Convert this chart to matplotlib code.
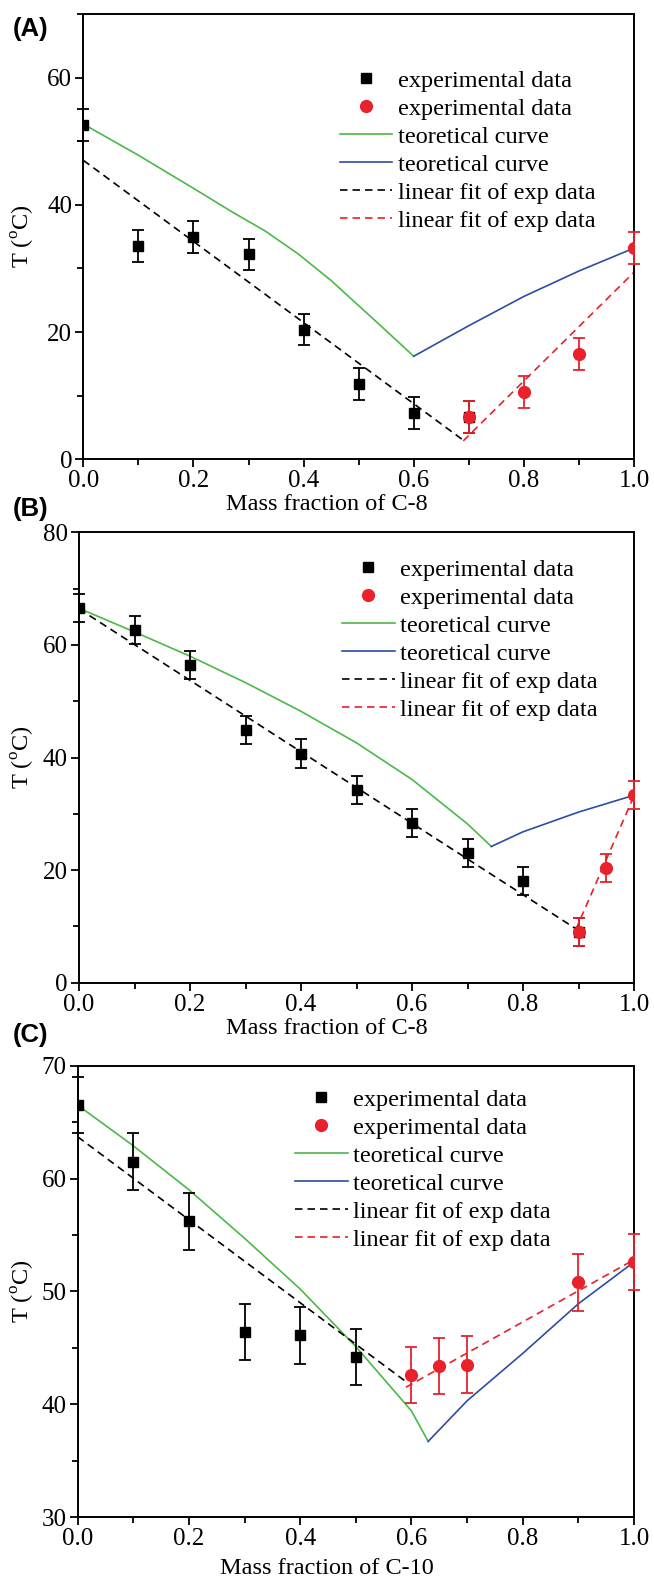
import numpy as np
import matplotlib
matplotlib.use('Agg')
import matplotlib.pyplot as plt
from matplotlib.ticker import MultipleLocator

plt.rcParams['font.family'] = ['Liberation Serif', 'DejaVu Serif']
plt.rcParams['mathtext.fontset'] = 'custom'
plt.rcParams['mathtext.rm'] = 'Liberation Serif'

W, H = 654, 1581
GREEN = '#4cb848'
BLUE = '#2b4ea3'
RED = '#e8212b'
FS_TICK = 18
FS = 17.5

# ---- panel A data (mass fraction of C-8) ----
a_sq_x = [0.0, 0.1, 0.2, 0.3, 0.4, 0.5, 0.6, 0.7]
a_sq_y = [52.5, 33.5, 35.0, 32.2, 20.4, 11.8, 7.3, 6.6]
a_ci_x = [0.7, 0.8, 0.9, 1.0]
a_ci_y = [6.6, 10.6, 16.5, 33.2]
a_green_x = [0.0, 0.1, 0.2, 0.27, 0.33, 0.39, 0.45, 0.54, 0.6]
a_green_y = [52.7, 47.8, 42.6, 38.9, 35.9, 32.3, 28.1, 21.0, 16.2]
a_blue_x = [0.6, 0.7, 0.8, 0.9, 1.0]
a_blue_y = [16.2, 21.0, 25.6, 29.6, 33.2]
a_kfit_x = [0.0, 0.69]
a_kfit_y = [47.0, 3.0]
a_rfit_x = [0.69, 1.0]
a_rfit_y = [2.9, 29.4]

# ---- panel B data (mass fraction of C-8) ----
b_sq_x = [0.0, 0.1, 0.2, 0.3, 0.4, 0.5, 0.6, 0.7, 0.8, 0.9]
b_sq_y = [66.5, 62.7, 56.4, 44.9, 40.7, 34.2, 28.3, 23.1, 18.0, 9.0]
b_ci_x = [0.9, 0.95, 1.0]
b_ci_y = [9.0, 20.3, 33.3]
b_green_x = [0.0, 0.1, 0.2, 0.3, 0.4, 0.5, 0.6, 0.7, 0.743]
b_green_y = [66.5, 62.3, 58.0, 53.3, 48.2, 42.6, 36.1, 28.2, 24.2]
b_blue_x = [0.743, 0.8, 0.9, 1.0]
b_blue_y = [24.2, 26.8, 30.3, 33.3]
b_kfit_x = [0.0, 0.895]
b_kfit_y = [66.4, 9.6]
b_rfit_x = [0.895, 1.0]
b_rfit_y = [9.4, 33.2]

# ---- panel C data (mass fraction of C-10) ----
c_sq_x = [0.0, 0.1, 0.2, 0.3, 0.4, 0.5]
c_sq_y = [66.5, 61.5, 56.2, 46.4, 46.1, 44.2]
c_ci_x = [0.6, 0.65, 0.7, 0.9, 1.0]
c_ci_y = [42.6, 43.4, 43.5, 50.8, 52.6]
c_green_x = [0.0, 0.1, 0.2, 0.3, 0.4, 0.5, 0.6, 0.63]
c_green_y = [66.5, 62.9, 59.0, 54.7, 50.2, 45.1, 39.4, 36.7]
c_blue_x = [0.63, 0.7, 0.8, 0.9, 1.0]
c_blue_y = [36.7, 40.3, 44.5, 48.9, 52.6]
c_kfit_x = [0.0, 0.59]
c_kfit_y = [63.7, 42.0]
c_rfit_x = [0.59, 1.0]
c_rfit_y = [41.5, 52.8]

err = 2.5
labels = ['experimental data', 'experimental data', 'teoretical curve',
          'teoretical curve', 'linear fit of exp data', 'linear fit of exp data']

fig = plt.figure(figsize=(W / 100, H / 100), dpi=100)


def fx(px):
    return px / W


def fy(py):
    return 1 - py / H


def panel(box, tag, tag_y, ylim, ymaj, ymin, xlabel, xlab_top, leg_xy, d):
    left, right, top, bottom = box
    ax = fig.add_axes([fx(left), fy(bottom), (right - left) / W, (bottom - top) / H])
    sq_x, sq_y, ci_x, ci_y, gx, gy, bx, by, kx, ky, rx, ry = d

    ax.errorbar(sq_x, sq_y, yerr=err, fmt='none', ecolor='black', elinewidth=1.3,
                capsize=4.2, capthick=1.3, clip_on=False, zorder=3)
    ax.errorbar(ci_x, ci_y, yerr=err, fmt='none', ecolor=RED, elinewidth=1.3,
                capsize=4.2, capthick=1.3, clip_on=False, zorder=3)
    h_sq, = ax.plot(sq_x, sq_y, 's', color='black', ms=7.5, zorder=4)
    h_ci, = ax.plot(ci_x, ci_y, 'o', color=RED, ms=8.5, zorder=5)
    h_g, = ax.plot(gx, gy, '-', color=GREEN, lw=1.2, zorder=2)
    h_b, = ax.plot(bx, by, '-', color=BLUE, lw=1.2, zorder=2)
    h_k, = ax.plot(kx, ky, '--', color='black', lw=1.2, dashes=(4.5, 3), zorder=2)
    h_r, = ax.plot(rx, ry, '--', color=RED, lw=1.2, dashes=(4.5, 3), zorder=2)

    ax.set_xlim(0, 1.0)
    ax.set_ylim(*ylim)
    ax.xaxis.set_major_locator(MultipleLocator(0.2))
    ax.xaxis.set_minor_locator(MultipleLocator(0.1))
    ax.yaxis.set_major_locator(MultipleLocator(ymaj))
    ax.yaxis.set_minor_locator(MultipleLocator(ymin))
    ax.xaxis.set_major_formatter(plt.FuncFormatter(lambda v, p: f'{v:.1f}'))
    ax.tick_params(which='both', direction='out', width=1.3, labelsize=FS_TICK, pad=2,
                   top=False, right=False)
    ax.tick_params(which='major', length=6)
    ax.tick_params(which='minor', length=4)
    for s in ax.spines.values():
        s.set_linewidth(1.4)

    ax.set_xlabel(xlabel, fontsize=FS)
    ax.xaxis.set_label_coords(0.5, fy(xlab_top), transform=fig.transFigure)
    ax.set_ylabel('T ($^{\\rm o}$C)', fontsize=FS)
    ax.yaxis.set_label_coords(fx(37), fy((top + bottom) / 2), transform=fig.transFigure)

    ax.legend([h_sq, h_ci, h_g, h_b, h_k, h_r], labels, loc='upper left',
              bbox_to_anchor=(fx(leg_xy[0]), fy(leg_xy[1])), bbox_transform=fig.transFigure,
              frameon=False, borderpad=0, borderaxespad=0, handlelength=2.16,
              handletextpad=0.22, labelspacing=0.25, fontsize=FS, numpoints=1)

    fig.text(fx(13), fy(tag_y), tag, fontsize=18.5, fontweight='bold',
             family='Liberation Sans', ha='left', va='center')
    return ax


panel((83.3, 634, 14, 459.3), '(A)', 29, (0, 70), 20, 10, 'Mass fraction of C-8', 494,
      (340, 69.5),
      (a_sq_x, a_sq_y, a_ci_x, a_ci_y, a_green_x, a_green_y, a_blue_x, a_blue_y,
       a_kfit_x, a_kfit_y, a_rfit_x, a_rfit_y))
panel((79, 634, 532.3, 982.7), '(B)', 509, (0, 80), 20, 10, 'Mass fraction of C-8', 1018,
      (342, 558.5),
      (b_sq_x, b_sq_y, b_ci_x, b_ci_y, b_green_x, b_green_y, b_blue_x, b_blue_y,
       b_kfit_x, b_kfit_y, b_rfit_x, b_rfit_y))
panel((77.7, 634, 1065.7, 1517), '(C)', 1035, (30, 70), 10, 5, 'Mass fraction of C-10', 1558,
      (295, 1088.5),
      (c_sq_x, c_sq_y, c_ci_x, c_ci_y, c_green_x, c_green_y, c_blue_x, c_blue_y,
       c_kfit_x, c_kfit_y, c_rfit_x, c_rfit_y))

fig.savefig('out.png', dpi=100)
